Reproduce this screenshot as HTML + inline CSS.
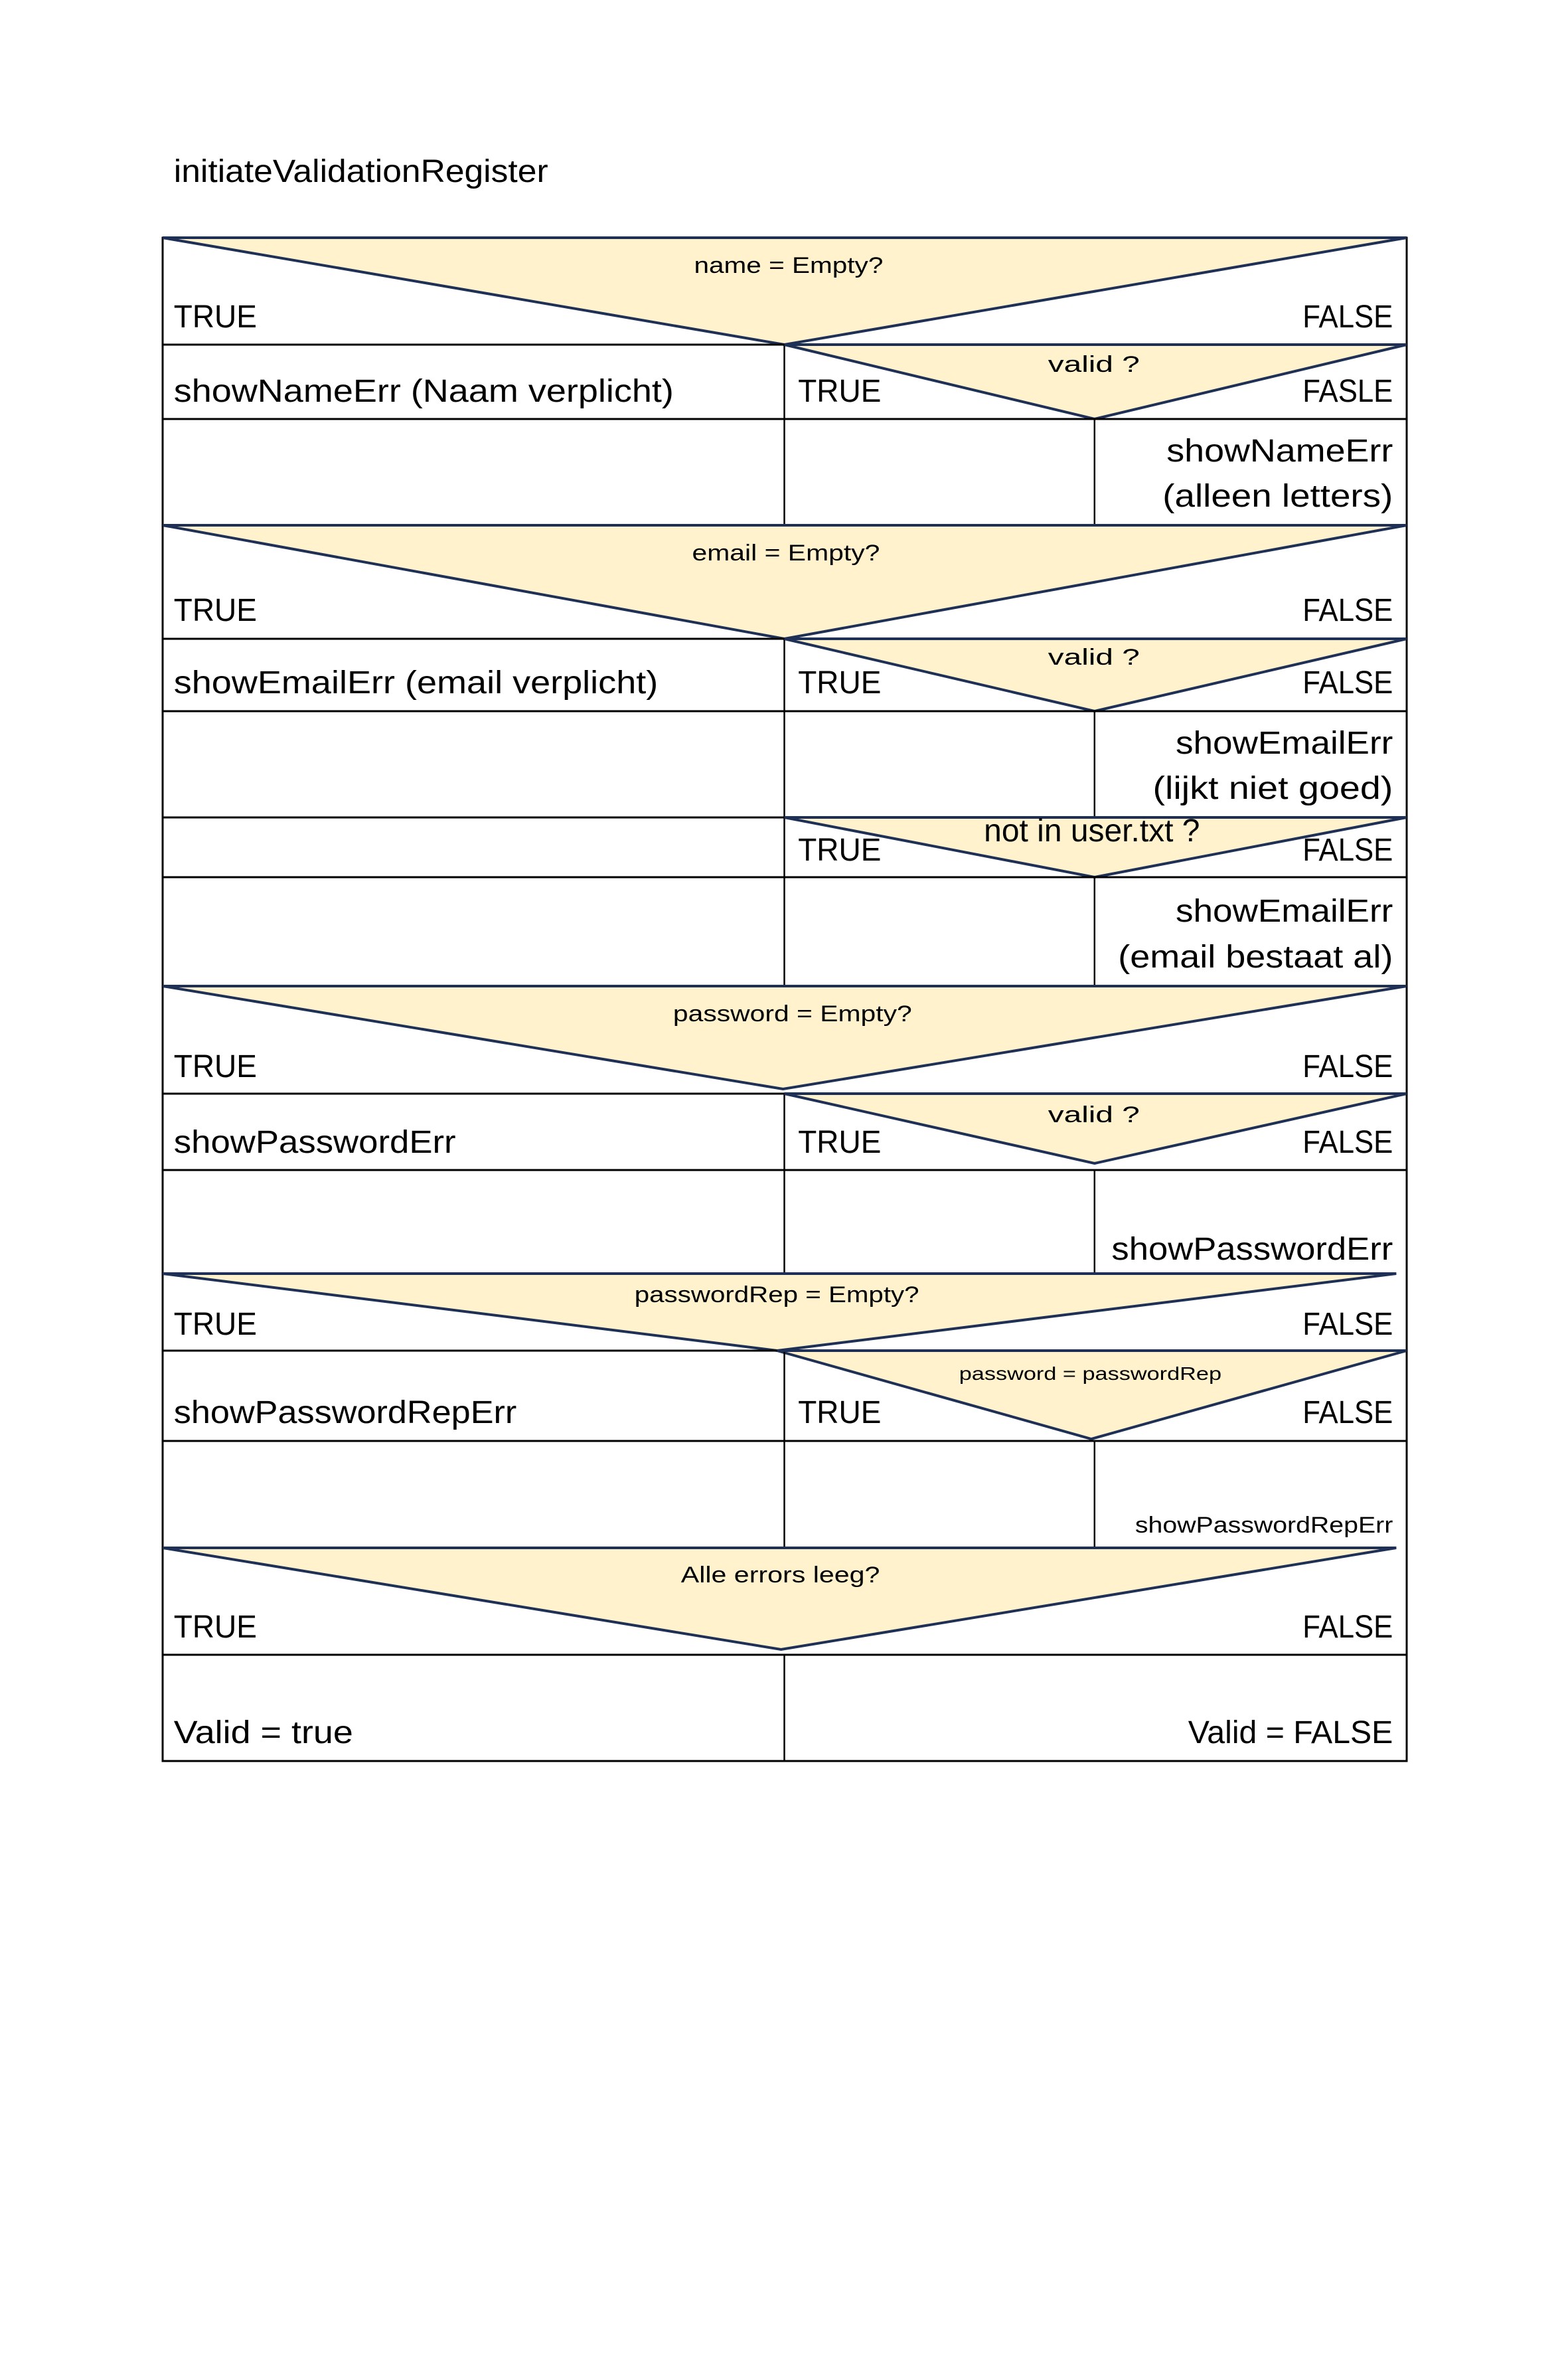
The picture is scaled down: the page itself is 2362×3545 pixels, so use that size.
<!DOCTYPE html>
<html><head><meta charset="utf-8"><style>
html,body{margin:0;padding:0;background:#fff;}
svg{display:block;}
text{font-family:"Liberation Sans",sans-serif;fill:#000;}
.b{font-size:48px;}
.s{font-size:34px;}
</style></head><body>
<svg width="2362" height="3545" viewBox="0 0 2362 3545" xmlns="http://www.w3.org/2000/svg">
<rect width="2362" height="3545" fill="#fff"/>
<g transform="translate(245,0) scale(0.9858,1) translate(-245,0)">
<text class="b" x="262" y="274" textLength="572" lengthAdjust="spacingAndGlyphs">initiateValidationRegister</text>

<g fill="#FFF2CC" stroke="#1F3056" stroke-width="4" stroke-linejoin="miter">
<polygon points="245,358 2146,358 1195,519"/>
<polygon points="1195,519 2146,519 1669,631"/>
<polygon points="245,791 2146,791 1195,962"/>
<polygon points="1195,962 2146,962 1669,1071"/>
<polygon points="1195,1231 2146,1231 1669,1321"/>
<polygon points="245,1485 2146,1485 1193,1640"/>
<polygon points="1195,1647 2146,1647 1669,1752"/>
<polygon points="245,1918 2130,1918 1184,2034"/>
<polygon points="1184,2034 2146,2034 1664,2167"/>
<polygon points="245,2331 2130,2331 1190,2484"/>
</g>

<g stroke="#000" stroke-width="3" fill="none">
<rect x="245" y="358" width="1901" height="2294"/>
<line x1="245" y1="519" x2="1195" y2="519"/>
<line x1="245" y1="631" x2="2146" y2="631"/>
<line x1="245" y1="962" x2="1195" y2="962"/>
<line x1="245" y1="1071" x2="2146" y2="1071"/>
<line x1="245" y1="1231" x2="1195" y2="1231"/>
<line x1="245" y1="1321" x2="2146" y2="1321"/>
<line x1="245" y1="1647" x2="1195" y2="1647"/>
<line x1="245" y1="1762" x2="2146" y2="1762"/>
<line x1="245" y1="2034" x2="1184" y2="2034"/>
<line x1="245" y1="2170" x2="2146" y2="2170"/>
<line x1="245" y1="2492" x2="2146" y2="2492"/>
</g>
<g stroke="#000" stroke-width="2.5">
<line x1="1195" y1="519" x2="1195" y2="791"/>
<line x1="1669" y1="631" x2="1669" y2="791"/>
<line x1="1195" y1="962" x2="1195" y2="1485"/>
<line x1="1669" y1="1071" x2="1669" y2="1231"/>
<line x1="1669" y1="1321" x2="1669" y2="1485"/>
<line x1="1195" y1="1647" x2="1195" y2="1918"/>
<line x1="1669" y1="1762" x2="1669" y2="1918"/>
<line x1="1195" y1="2034" x2="1195" y2="2331"/>
<line x1="1669" y1="2170" x2="1669" y2="2331"/>
<line x1="1195" y1="2492" x2="1195" y2="2652"/>
</g>
<g stroke="#1F3056" stroke-width="4">
<line x1="245" y1="358" x2="2146" y2="358"/>
<line x1="1195" y1="519" x2="2146" y2="519"/>
<line x1="245" y1="791" x2="2146" y2="791"/>
<line x1="1195" y1="962" x2="2146" y2="962"/>
<line x1="1195" y1="1231" x2="2146" y2="1231"/>
<line x1="245" y1="1485" x2="2146" y2="1485"/>
<line x1="1195" y1="1647" x2="2146" y2="1647"/>
<line x1="245" y1="1918" x2="2130" y2="1918"/>
<line x1="1184" y1="2034" x2="2146" y2="2034"/>
<line x1="245" y1="2331" x2="2130" y2="2331"/>
</g>

<g class="b">
<text class="s" x="1057" y="411" textLength="289" lengthAdjust="spacingAndGlyphs">name = Empty?</text>
<text x="262" y="493" textLength="127" lengthAdjust="spacingAndGlyphs">TRUE</text>
<text x="2125" y="493" text-anchor="end" textLength="138" lengthAdjust="spacingAndGlyphs">FALSE</text>

<text x="262" y="605" textLength="764" lengthAdjust="spacingAndGlyphs">showNameErr (Naam verplicht)</text>
<text class="s" x="1598" y="560" textLength="140" lengthAdjust="spacingAndGlyphs">valid ?</text>
<text x="1216" y="605" textLength="127" lengthAdjust="spacingAndGlyphs">TRUE</text>
<text x="2125" y="605" text-anchor="end" textLength="138" lengthAdjust="spacingAndGlyphs">FASLE</text>

<text x="2125" y="695" text-anchor="end" textLength="346" lengthAdjust="spacingAndGlyphs">showNameErr</text>
<text x="2125" y="763" text-anchor="end" textLength="352" lengthAdjust="spacingAndGlyphs">(alleen letters)</text>

<text class="s" x="1054" y="844" textLength="287" lengthAdjust="spacingAndGlyphs">email = Empty?</text>
<text x="262" y="935" textLength="127" lengthAdjust="spacingAndGlyphs">TRUE</text>
<text x="2125" y="935" text-anchor="end" textLength="138" lengthAdjust="spacingAndGlyphs">FALSE</text>

<text x="262" y="1044" textLength="740" lengthAdjust="spacingAndGlyphs">showEmailErr (email verplicht)</text>
<text class="s" x="1598" y="1001" textLength="140" lengthAdjust="spacingAndGlyphs">valid ?</text>
<text x="1216" y="1044" textLength="127" lengthAdjust="spacingAndGlyphs">TRUE</text>
<text x="2125" y="1044" text-anchor="end" textLength="138" lengthAdjust="spacingAndGlyphs">FALSE</text>

<text x="2125" y="1135" text-anchor="end" textLength="332" lengthAdjust="spacingAndGlyphs">showEmailErr</text>
<text x="2125" y="1203" text-anchor="end" textLength="367" lengthAdjust="spacingAndGlyphs">(lijkt niet goed)</text>

<text x="1500" y="1267" textLength="330" lengthAdjust="spacingAndGlyphs">not in user.txt ?</text>
<text x="1216" y="1296" textLength="127" lengthAdjust="spacingAndGlyphs">TRUE</text>
<text x="2125" y="1296" text-anchor="end" textLength="138" lengthAdjust="spacingAndGlyphs">FALSE</text>

<text x="2125" y="1388" text-anchor="end" textLength="332" lengthAdjust="spacingAndGlyphs">showEmailErr</text>
<text x="2125" y="1457" text-anchor="end" textLength="420" lengthAdjust="spacingAndGlyphs">(email bestaat al)</text>

<text class="s" x="1025" y="1538" textLength="365" lengthAdjust="spacingAndGlyphs">password = Empty?</text>
<text x="262" y="1622" textLength="127" lengthAdjust="spacingAndGlyphs">TRUE</text>
<text x="2125" y="1622" text-anchor="end" textLength="138" lengthAdjust="spacingAndGlyphs">FALSE</text>

<text x="262" y="1736" textLength="431" lengthAdjust="spacingAndGlyphs">showPasswordErr</text>
<text class="s" x="1598" y="1690" textLength="140" lengthAdjust="spacingAndGlyphs">valid ?</text>
<text x="1216" y="1736" textLength="127" lengthAdjust="spacingAndGlyphs">TRUE</text>
<text x="2125" y="1736" text-anchor="end" textLength="138" lengthAdjust="spacingAndGlyphs">FALSE</text>

<text x="2125" y="1897" text-anchor="end" textLength="430" lengthAdjust="spacingAndGlyphs">showPasswordErr</text>

<text class="s" x="966" y="1961" textLength="435" lengthAdjust="spacingAndGlyphs">passwordRep = Empty?</text>
<text x="262" y="2010" textLength="127" lengthAdjust="spacingAndGlyphs">TRUE</text>
<text x="2125" y="2010" text-anchor="end" textLength="138" lengthAdjust="spacingAndGlyphs">FALSE</text>

<text x="262" y="2143" textLength="524" lengthAdjust="spacingAndGlyphs">showPasswordRepErr</text>
<text style="font-size:28px" x="1462" y="2078" textLength="401" lengthAdjust="spacingAndGlyphs">password = passwordRep</text>
<text x="1216" y="2143" textLength="127" lengthAdjust="spacingAndGlyphs">TRUE</text>
<text x="2125" y="2143" text-anchor="end" textLength="138" lengthAdjust="spacingAndGlyphs">FALSE</text>

<text style="font-size:34px" x="2125" y="2308" text-anchor="end" textLength="394" lengthAdjust="spacingAndGlyphs">showPasswordRepErr</text>

<text class="s" x="1037" y="2383" textLength="304" lengthAdjust="spacingAndGlyphs">Alle errors leeg?</text>
<text x="262" y="2466" textLength="127" lengthAdjust="spacingAndGlyphs">TRUE</text>
<text x="2125" y="2466" text-anchor="end" textLength="138" lengthAdjust="spacingAndGlyphs">FALSE</text>

<text x="262" y="2625" textLength="274" lengthAdjust="spacingAndGlyphs">Valid = true</text>
<text x="2125" y="2625" text-anchor="end" textLength="313" lengthAdjust="spacingAndGlyphs">Valid = FALSE</text>
</g>
</g>
</svg>
</body></html>
